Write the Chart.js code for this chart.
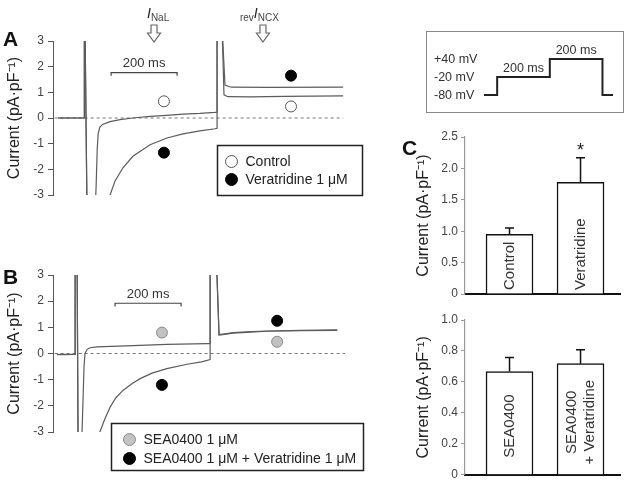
<!DOCTYPE html>
<html>
<head>
<meta charset="utf-8">
<title>Late Na current and reverse NCX current</title>
<script src="https://cdn.jsdelivr.net/npm/chart.js@4.4.1/dist/chart.umd.min.js"></script>
<style>
  body { margin: 0; background: #fff; }
  .wrap { position: relative; width: 629px; height: 485px; }
  .wrap canvas { position: absolute; left: 0; top: 0; }
</style>
</head>
<body>
<div class="wrap">
  <canvas id="chartA" width="629" height="485"></canvas>
  <canvas id="chartB" width="629" height="485"></canvas>
  <canvas id="protocol" width="629" height="485"></canvas>
  <canvas id="barTop" width="629" height="485"></canvas>
  <canvas id="barBottom" width="629" height="485"></canvas>
</div>
<script>
Chart.defaults.font.family = 'Arial, "Liberation Sans", sans-serif';
Chart.defaults.color = '#333';
Chart.defaults.animation = false;
Chart.defaults.plugins.legend.display = false;
Chart.defaults.plugins.tooltip.enabled = false;

const TIME_MAX = 930; // ms across the trace panels

// Panel A traces: time (ms), current (pA/pF)
const aCtrlTime = [15, 94, 95, 97, 103, 128, 131, 134, 137, 142, 150, 173, 203, 242, 294, 345, 394, 445, 490, 497, 497, 512, 518, 530, 600, 700, 879];
const aCtrlCurr = [0, 0, 3.6, 3.6, -3.6, -3.6, -2.5, -1.2, -0.6, -0.35, -0.25, -0.14, -0.06, 0, 0.06, 0.1, 0.15, 0.18, 0.22, 0.23, 3.6, 3.6, 0.9, 0.83, 0.82, 0.84, 0.86];
const aVeraTime = [15, 94, 95, 97, 103, 165, 173, 188, 212, 242, 294, 345, 394, 445, 491, 497, 497, 512, 521, 540, 650, 879];
const aVeraCurr = [0, 0, 3.6, 3.6, -3.6, -3.6, -3, -2.45, -1.94, -1.49, -1.04, -0.78, -0.62, -0.5, -0.42, -0.4, 3.6, 3.6, 1.28, 1.2, 1.19, 1.2];
const aDotTime = [336, 721];
const aCtrlDots = [0.65, 0.45];
const aVeraDots = [-1.35, 1.65];
const aZeroTime = [5, 879];
const aBarTime = [176, 376];
const aBarLevel = 1.77;
const aSeries = ['Control', 'Veratridine 1 μM'];

// Panel B traces
const bSeaTime = [12, 40, 67, 67, 73, 76, 85, 88, 94, 97, 103, 112, 133, 242, 345, 467, 476, 476, 495, 503, 520, 545, 600, 648, 750, 861];
const bSeaCurr = [-0.04, -0.03, -0.03, 3.6, 3.6, -3.6, -3.6, -3, -0.5, 0, 0.15, 0.22, 0.25, 0.3, 0.35, 0.38, 0.38, 3.6, 3.6, 0.72, 0.75, 0.8, 0.84, 0.86, 0.88, 0.9];
const bVeraTime = [12, 40, 67, 67, 73, 76, 135, 142, 157, 173, 190, 212, 240, 264, 300, 345, 406, 450, 476, 476, 495, 503, 520, 545, 600, 648, 750, 861];
const bVeraCurr = [-0.03, -0.04, -0.03, 3.6, 3.6, -3.6, -3.6, -3, -2.5, -2.05, -1.7, -1.41, -1.15, -0.96, -0.75, -0.58, -0.41, -0.32, -0.23, 3.6, 3.6, 0.7, 0.73, 0.78, 0.82, 0.85, 0.87, 0.88];
const bDotTime = [330, 679];
const bSeaDots = [0.8, 0.45];
const bVeraDots = [-1.2, 1.25];
const bZeroTime = [5, 885];
const bBarTime = [188, 388];
const bBarLevel = 1.92;
const bSeries = ['SEA0400 1 μM', 'SEA0400 1 μM + Veratridine 1 μM'];

// current markers above panel A
const markTime = [306, 636];

// voltage protocol
const protoTime = [0, 50, 250, 450, 490];
const protoVolt = [-80, -20, 40, -80, -80];
const protoLevels = [40, -20, -80];

// Panel C bars
const cTopCats = [['Control'], ['Veratridine']];
const cTopMean = [0.95, 1.78];
const cTopSem = [0.10, 0.39];
const cTopSig = ['', '*'];
const cBotCats = [['SEA0400'], ['SEA0400', '+ Veratridine']];
const cBotMean = [0.667, 0.718];
const cBotSem = [0.09, 0.09];

const pts = (xs, ys) => xs.map((x, i) => ({ x, y: ys[i] }));
const FONT = Chart.defaults.font.family;

function txt(ctx, s, x, y, o = {}) {
  ctx.save();
  ctx.font = `${o.style || ''} ${o.weight || ''} ${o.size || 13}px ${FONT}`;
  ctx.fillStyle = o.color || '#222';
  ctx.textAlign = o.align || 'left';
  ctx.textBaseline = o.base || 'alphabetic';
  if (o.rot) { ctx.translate(x, y); ctx.rotate(o.rot); ctx.fillText(s, 0, 0); }
  else ctx.fillText(s, x, y);
  const w = ctx.measureText(s).width;
  ctx.restore();
  return w;
}

function richLabel(ctx, parts, x, y) {
  parts.forEach(p => { x += txt(ctx, p.t, x, y + (p.dy || 0), p); });
}

function hollowArrow(ctx, cx, top) {
  ctx.save();
  ctx.beginPath();
  ctx.moveTo(cx - 3, top); ctx.lineTo(cx + 3, top); ctx.lineTo(cx + 3, top + 8);
  ctx.lineTo(cx + 6.5, top + 8); ctx.lineTo(cx, top + 17); ctx.lineTo(cx - 6.5, top + 8);
  ctx.lineTo(cx - 3, top + 8); ctx.closePath();
  ctx.fillStyle = '#fff'; ctx.fill();
  ctx.strokeStyle = '#666'; ctx.lineWidth = 1.2; ctx.stroke();
  ctx.restore();
}

function boxLegend(ctx, x, y, w, h, gap, rows) {
  ctx.save();
  ctx.strokeStyle = '#222'; ctx.lineWidth = 1.5;
  ctx.strokeRect(x, y, w, h);
  rows.forEach((r, i) => {
    const my = y + 16 + i * gap;
    ctx.beginPath(); ctx.arc(x + r.mx, my, 6, 0, Math.PI * 2);
    ctx.fillStyle = r.fill; ctx.fill();
    ctx.strokeStyle = r.stroke; ctx.lineWidth = 1; ctx.stroke();
    txt(ctx, r.text, x + r.mx + 14, my + 1, { size: 14, base: 'middle' });
  });
  ctx.restore();
}

function currentAxis() {
  return {
    min: -3, max: 3,
    afterFit: s => { s.width = 53; },
    border: { color: '#555', width: 1 },
    grid: { drawOnChartArea: false, tickLength: 5, color: '#555' },
    ticks: { stepSize: 1, padding: 4, color: '#444', font: { size: 12 } },
    title: { display: true, text: 'Current (pA·pF⁻¹)', color: '#222', font: { size: 16 }, padding: { top: 5, bottom: 0 } }
  };
}

function dotSet(times, vals, fill, stroke) {
  return { data: pts(times, vals), showLine: false, pointRadius: 5.5, pointBorderWidth: 1,
           pointBackgroundColor: fill, pointBorderColor: stroke };
}
function traceSet(times, vals) {
  return { data: pts(times, vals), borderColor: '#5c5c5c', borderWidth: 1.2, pointRadius: 0 };
}
function zeroSet(times) {
  return { data: pts(times, times.map(() => 0)), borderColor: '#777', borderWidth: 1, borderDash: [3, 3], pointRadius: 0 };
}
function scaleBarSet(times, level) {
  const tick = level - 0.12;
  return { data: pts([times[0], times[0], times[1], times[1]], [tick, level, level, tick]),
           borderColor: '#444', borderWidth: 1.2, pointRadius: 0 };
}

function traceChart(id, top, bottom, datasets, plugin) {
  return new Chart(document.getElementById(id), {
    type: 'line',
    data: { datasets },
    options: {
      responsive: false,
      layout: { padding: { left: 0, top, right: 269, bottom: 485 - bottom } },
      elements: { line: { tension: 0 } },
      scales: {
        x: { type: 'linear', min: 0, max: TIME_MAX, display: false },
        y: currentAxis()
      }
    },
    plugins: [plugin]
  });
}

// Panel A
traceChart('chartA', 41, 195, [
  dotSet(aDotTime, aCtrlDots, '#fff', '#555'),
  dotSet(aDotTime, aVeraDots, '#000', '#000'),
  traceSet(aCtrlTime, aCtrlCurr),
  traceSet(aVeraTime, aVeraCurr),
  zeroSet(aZeroTime),
  scaleBarSet(aBarTime, aBarLevel)
], {
  id: 'notesA',
  afterDraw(chart) {
    const { ctx, scales: { x, y } } = chart;
    txt(ctx, '200 ms', x.getPixelForValue((aBarTime[0] + aBarTime[1]) / 2), y.getPixelForValue(aBarLevel) - 9,
        { size: 13, align: 'center', base: 'middle', color: '#333' });
    const m0 = x.getPixelForValue(markTime[0]);
    const m1 = x.getPixelForValue(markTime[1]);
    richLabel(ctx, [{ t: 'I', style: 'italic', size: 14 }, { t: 'NaL', size: 10, dy: 3, color: '#444' }], m0 - 7, 18);
    richLabel(ctx, [{ t: 'rev', size: 10, dy: 3, color: '#444' }, { t: 'I', style: 'italic', size: 14 }, { t: 'NCX', size: 10, dy: 3, color: '#444' }], m1 - 23, 18);
    hollowArrow(ctx, m0, 25);
    hollowArrow(ctx, m1, 25);
    boxLegend(ctx, 217.5, 145.5, 145, 50, 18, [
      { mx: 14, fill: '#fff', stroke: '#555', text: aSeries[0] },
      { mx: 14, fill: '#000', stroke: '#000', text: aSeries[1] }
    ]);
    txt(ctx, 'A', 3, 46, { size: 21, weight: 'bold', color: '#111' });
  }
});

// Panel B
traceChart('chartB', 275, 432, [
  dotSet(bDotTime, bSeaDots, '#c2c2c2', '#8a8a8a'),
  dotSet(bDotTime, bVeraDots, '#000', '#000'),
  traceSet(bSeaTime, bSeaCurr),
  traceSet(bVeraTime, bVeraCurr),
  zeroSet(bZeroTime),
  scaleBarSet(bBarTime, bBarLevel)
], {
  id: 'notesB',
  afterDraw(chart) {
    const { ctx, scales: { x, y } } = chart;
    txt(ctx, '200 ms', x.getPixelForValue((bBarTime[0] + bBarTime[1]) / 2), y.getPixelForValue(bBarLevel) - 9,
        { size: 13, align: 'center', base: 'middle', color: '#333' });
    boxLegend(ctx, 111.5, 423.5, 252, 47, 19, [
      { mx: 18, fill: '#c2c2c2', stroke: '#8a8a8a', text: bSeries[0] },
      { mx: 18, fill: '#000', stroke: '#000', text: bSeries[1] }
    ]);
    txt(ctx, 'B', 3, 284, { size: 21, weight: 'bold', color: '#111' });
  }
});

// Voltage protocol inset
new Chart(document.getElementById('protocol'), {
  type: 'line',
  data: { datasets: [{ data: pts(protoTime, protoVolt), stepped: 'before', borderColor: '#222', borderWidth: 2, pointRadius: 0, clip: false }] },
  options: {
    responsive: false,
    layout: { padding: { left: 484, top: 59, right: 16, bottom: 390 } },
    scales: {
      x: { type: 'linear', min: 0, max: 490, display: false },
      y: { min: -80, max: 40, display: false }
    }
  },
  plugins: [{
    id: 'protoNotes',
    afterDraw(chart) {
      const { ctx, scales: { x, y } } = chart;
      ctx.save();
      ctx.strokeStyle = '#888'; ctx.lineWidth = 1;
      ctx.strokeRect(426.5, 31.5, 197, 81);
      ctx.restore();
      protoLevels.forEach(v => {
        txt(ctx, (v > 0 ? '+' : '') + v + ' mV', 434, y.getPixelForValue(v) + 1, { size: 12.5, base: 'middle', color: '#333' });
      });
      for (let i = 1; i <= 2; i++) {
        const mid = (protoTime[i] + protoTime[i + 1]) / 2;
        txt(ctx, (protoTime[i + 1] - protoTime[i]) + ' ms', x.getPixelForValue(mid), y.getPixelForValue(protoVolt[i]) - 8,
            { size: 12.5, align: 'center', base: 'middle', color: '#333' });
      }
    }
  }]
});

// Panel C bar charts
function barChart(id, top, bottom, cats, mean, sem, sig, yMax, step, labelMode, letter) {
  return new Chart(document.getElementById(id), {
    type: 'bar',
    data: { datasets: [{ data: mean.map((v, i) => ({ x: i, y: v })), backgroundColor: '#fff',
                         borderColor: '#111', borderWidth: 1.5, barThickness: 47 }] },
    options: {
      responsive: false,
      layout: { padding: { left: 410, top, right: 9, bottom: 485 - bottom } },
      scales: {
        x: { type: 'linear', offset: false, min: -0.627, max: 1.556, afterFit: s => { s.height = 0; },
             ticks: { display: false }, grid: { display: false, offset: false }, border: { color: '#111', width: 2 } },
        y: {
          min: 0, max: yMax,
          afterFit: s => { s.width = 55; },
          border: { color: '#999', width: 1.2 },
          grid: { drawOnChartArea: false, tickLength: 4, color: '#999' },
          ticks: { stepSize: step, padding: 3, color: '#444', font: { size: 12 },
                   callback: v => v === 0 ? '0' : v.toFixed(1) },
          title: { display: true, text: 'Current (pA·pF⁻¹)', color: '#222', font: { size: 16 }, padding: { top: 4, bottom: 0 } }
        }
      }
    },
    plugins: [{
      id: 'barNotes',
      afterDatasetsDraw(chart) {
        const { ctx, scales: { y } } = chart;
        chart.getDatasetMeta(0).data.forEach((bar, i) => {
          const errY = y.getPixelForValue(mean[i] + sem[i]);
          ctx.save();
          ctx.strokeStyle = '#111'; ctx.lineWidth = 1.5;
          ctx.beginPath();
          ctx.moveTo(bar.x, bar.y); ctx.lineTo(bar.x, errY);
          ctx.moveTo(bar.x - 4.5, errY); ctx.lineTo(bar.x + 4.5, errY);
          ctx.stroke();
          ctx.restore();
          if (sig[i]) txt(ctx, sig[i], bar.x, errY - 2, { size: 18, align: 'center', color: '#222' });
          const lines = cats[i];
          lines.forEach((s, k) => {
            const dx = (k - (lines.length - 1) / 2) * 18;
            if (labelMode === 'base') {
              txt(ctx, s, bar.x + dx, y.getPixelForValue(0) - 4, { size: 15, base: 'middle', rot: -Math.PI / 2, color: '#333' });
            } else {
              txt(ctx, s, bar.x + dx, (bar.y + y.getPixelForValue(0)) / 2 + 3, { size: 15, align: 'center', base: 'middle', rot: -Math.PI / 2, color: '#333' });
            }
          });
        });
        if (letter) txt(ctx, letter, 402, 155, { size: 21, weight: 'bold', color: '#111' });
      }
    }]
  });
}

barChart('barTop', 137, 294, cTopCats, cTopMean, cTopSem, cTopSig, 2.5, 0.5, 'base', 'C');
barChart('barBottom', 320, 477, cBotCats, cBotMean, cBotSem, ['', ''], 1.0, 0.2, 'center', '');
</script>
</body>
</html>
